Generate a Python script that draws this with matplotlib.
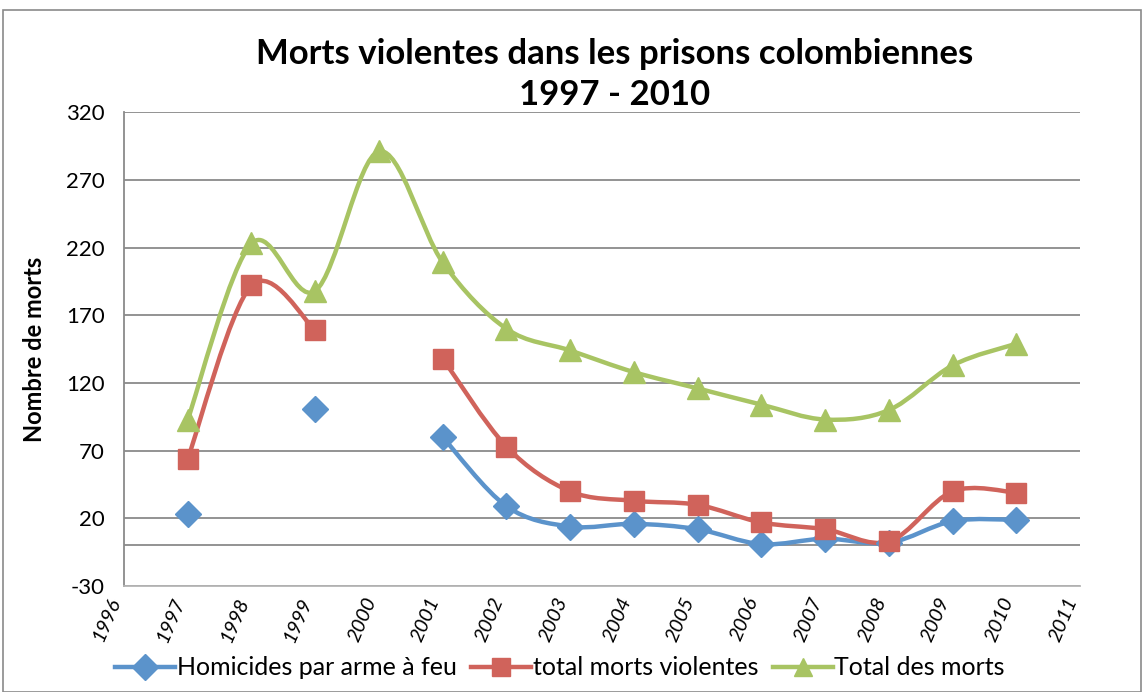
import numpy as np
import matplotlib
matplotlib.use('Agg')
import matplotlib.pyplot as plt
from matplotlib.path import Path
from matplotlib.patches import PathPatch, Rectangle
from matplotlib.lines import Line2D

nan = np.nan

# data
years = np.arange(1997, 2011)
homicides = [23, nan, 101, nan, 80, 29, 14, 16, 12, 1, 5, 2, 18, 19]
violentes = [64, 192, 159, nan, 138, 73, 40, 33, 30, 17, 12, 3, 40, 39]
total_morts = [93, 223, 188, 291, 209, 160, 144, 128, 116, 104, 93, 100, 133, 149]

labels = ['Homicides par arme à feu', 'total morts violentes', 'Total des morts']
colors = ['#5B93CB', '#D0635B', '#A8C463']
markers = ['D', 's', '^']
msizes = [13, 15, 16]

plt.rcParams['font.family'] = ['Lato', 'DejaVu Sans']
plt.rcParams['axes.unicode_minus'] = False


def smooth_path(x, y):
	# excel-like smoothed line: cubic bezier through the points (catmull-rom control points)
	x = np.asarray(x, float)
	y = np.asarray(y, float)
	ok = np.isfinite(y)
	verts, codes = [], []
	i = 0
	while i < len(y):
		if not ok[i]:
			i += 1
			continue
		j = i
		while j + 1 < len(y) and ok[j + 1]:
			j += 1
		px, py = x[i:j + 1], y[i:j + 1]
		n = len(px)
		if n >= 2:
			verts.append((px[0], py[0]))
			codes.append(Path.MOVETO)
			for k in range(n - 1):
				a = max(k - 1, 0)
				d = min(k + 2, n - 1)
				c1 = (px[k] + (px[k + 1] - px[a]) / 6, py[k] + (py[k + 1] - py[a]) / 6)
				c2 = (px[k + 1] - (px[d] - px[k]) / 6, py[k + 1] - (py[d] - py[k]) / 6)
				verts += [c1, c2, (px[k + 1], py[k + 1])]
				codes += [Path.CURVE4] * 3
		i = j + 1
	if not verts:
		return None
	return Path(verts, codes)


fig = plt.figure(figsize=(11.43, 6.92), dpi=100)
ax = fig.add_axes([0.1085, 0.153, 0.8365, 0.685])

for vals, col, mk, ms in zip([homicides, violentes, total_morts], colors, markers, msizes):
	p = smooth_path(years, vals)
	if p is not None:
		ax.add_patch(PathPatch(p, facecolor='none', edgecolor=col, lw=3.2, capstyle='round', joinstyle='round', zorder=3))
	ax.plot(years, vals, ls='none', marker=mk, ms=ms, color=col, mec=col, zorder=4)

ax.set_xlim(1996, 2011)
ax.set_ylim(-30, 320)
ax.set_yticks(np.arange(-30, 321, 50))
ax.set_xticks(np.arange(1996, 2012))
ax.set_xticklabels([str(v) for v in range(1996, 2012)], rotation=67, ha='right', va='top',
	fontsize=14.5, style='italic')
ax.tick_params(axis='y', labelsize=16, length=0, pad=14)
ax.tick_params(axis='x', length=0, pad=6)
ax.grid(axis='y', color='#8a8a8a', lw=1.3)
ax.axhline(0, color='#8a8a8a', lw=1.3)
for s in ['top', 'right']:
	ax.spines[s].set_visible(False)
ax.spines['left'].set_color('#8a8a8a')
ax.spines['left'].set_linewidth(1.3)
ax.spines['bottom'].set_color('#b5b5b5')
ax.spines['bottom'].set_linewidth(1.3)
ax.set_axisbelow(True)

ax.set_ylabel('Nombre de morts', fontsize=17, fontweight='bold', labelpad=14)
fig.text(0.538, 0.892, 'Morts violentes dans les prisons colombiennes\n1997 - 2010',
	ha='center', va='center', fontsize=25, fontweight='bold', linespacing=1.35)

handles = [Line2D([], [], color=c, lw=3.2, marker=m, ms=13, mec=c) for c, m in zip(colors, markers)]
fig.legend(handles, labels, loc='center', bbox_to_anchor=(0.49, 0.035), ncol=3, frameon=False,
	fontsize=18, handlelength=2.4, handletextpad=0.05, columnspacing=0.6)

fig.add_artist(Rectangle((0.003, 0.0), 0.995, 0.985, transform=fig.transFigure,
	facecolor='none', edgecolor='#8a8a8a', lw=1.2))

fig.savefig('out.png', dpi=100)
